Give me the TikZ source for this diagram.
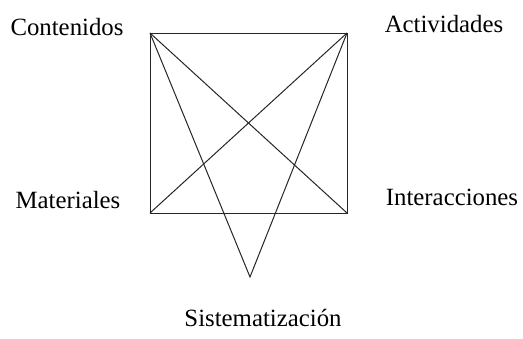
\documentclass[tikz,border=0pt]{standalone}
\usepackage{fontspec}
\setmainfont{Liberation Serif}
\usepackage{tikz}

\begin{document}
\begin{tikzpicture}[x=0.5pt, y=-0.5pt,
    lbl/.style={font=\fontsize{12.4}{15}\selectfont, inner sep=0pt},
    edge/.style={line width=0.5pt, black!85}]
        \useasboundingbox (0,0) rectangle (523,338);
        \coordinate (tl) at (150,33);
        \coordinate (tr) at (347,33);
        \coordinate (br) at (347,213);
        \coordinate (bl) at (150,213);
        \coordinate (tip) at (250,277);
        \node[lbl] (cont) at (67,27) {Contenidos};
        \node[lbl] (act) at (444,24) {Actividades};
        \node[lbl] (mat) at (68,200) {Materiales};
        \node[lbl] (inter) at (452,197) {Interacciones};
        \node[lbl] (sist) at (263,318) {Sistematización};
        \draw[edge] (tl) -- (tr) -- (br) -- (bl) -- cycle;
        \draw[edge] (tl) -- (br);
        \draw[edge] (tr) -- (bl);
        \draw[edge] (tl) -- (tip) -- (tr);
      \end{tikzpicture}
\end{document}
